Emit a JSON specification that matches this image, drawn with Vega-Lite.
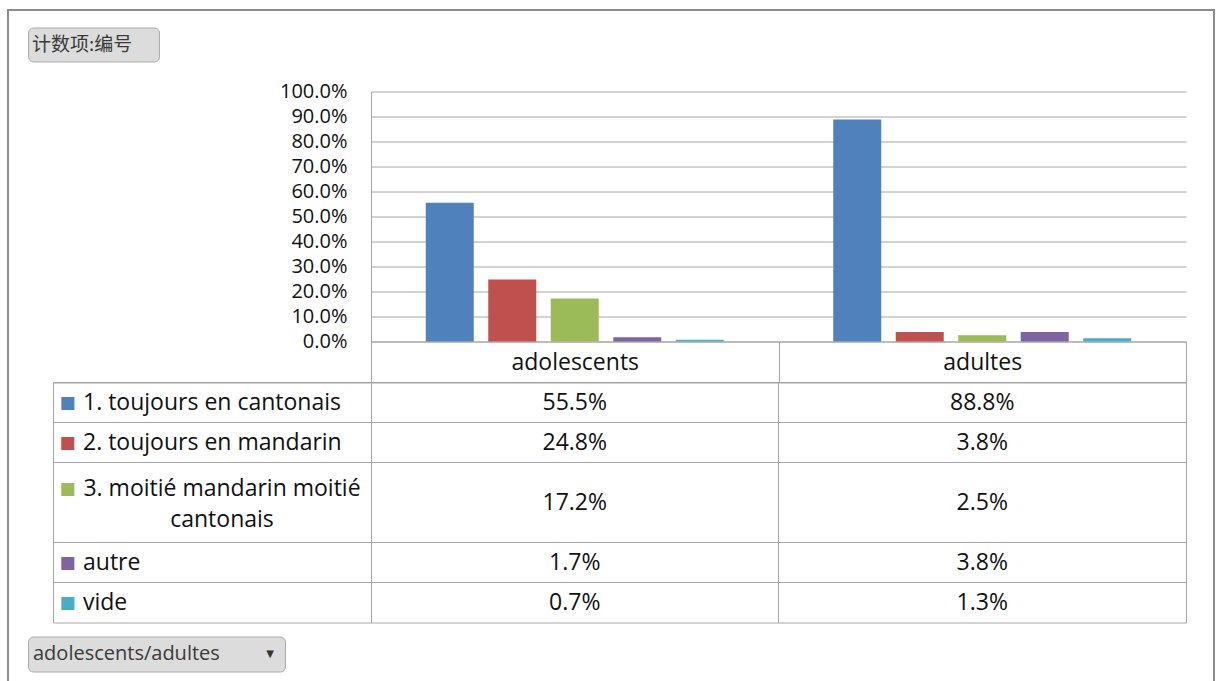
{
  "$schema": "https://vega.github.io/schema/vega-lite/v6.json",
  "padding": {"left": 7, "top": 9, "right": 0, "bottom": 0},
  "background": "white",
  "config": {
    "view": {"stroke": null},
    "font": "Open Sans",
    "axis": {"labelFont": "Open Sans"},
    "text": {"font": "Open Sans"}
  },
  "datasets": {
    "tbl": [
      {"group": "adolescents", "series": "1. toujours en cantonais", "value": 0.555},
      {"group": "adolescents", "series": "2. toujours en mandarin", "value": 0.248},
      {"group": "adolescents", "series": "3. moitié mandarin moitié cantonais", "value": 0.172},
      {"group": "adolescents", "series": "autre", "value": 0.017},
      {"group": "adolescents", "series": "vide", "value": 0.007},
      {"group": "adultes", "series": "1. toujours en cantonais", "value": 0.888},
      {"group": "adultes", "series": "2. toujours en mandarin", "value": 0.038},
      {"group": "adultes", "series": "3. moitié mandarin moitié cantonais", "value": 0.025},
      {"group": "adultes", "series": "autre", "value": 0.038},
      {"group": "adultes", "series": "vide", "value": 0.013}
    ]
  },
  "bounds": "full",
  "spacing": 0,
  "hconcat": [
    {
      "width": 2,
      "height": 672,
      "view": {"fill": "#8c8c8c"},
      "data": {"values": []},
      "mark": "text",
      "encoding": {"text": {"value": ""}}
    },
    {
      "bounds": "full",
      "spacing": 15.5,
      "vconcat": [
        {
          "width": 1204,
          "height": 2,
          "view": {"fill": "#8c8c8c"},
          "data": {"values": []},
          "mark": "text",
          "encoding": {"text": {"value": ""}}
        },
        {
          "bounds": "flush",
          "spacing": 0,
          "hconcat": [
            {
              "width": 19,
              "height": 10,
              "view": {"fill": "white"},
              "data": {"values": []},
              "mark": "text",
              "encoding": {"text": {"value": ""}}
            },
            {
              "bounds": "flush",
              "spacing": 30,
              "vconcat": [
                {
                  "width": 131,
                  "height": 34,
                  "view": {"fill": "#dcdcdc", "stroke": "#ababab", "cornerRadius": 5},
                  "data": {"values": [{"label": "计数项:编号"}]},
                  "mark": {"type": "text", "font": "Noto Sans CJK SC", "fontSize": 19, "align": "left", "dx": -61.5, "color": "#3a3a3a"},
                  "encoding": {"text": {"field": "label", "type": "nominal"}}
                },
                {
                  "bounds": "full",
                  "spacing": 12,
                  "vconcat": [
                    {
                      "bounds": "flush",
                      "spacing": 0,
                      "hconcat": [
                        {
                          "width": 25,
                          "height": 10,
                          "view": {"fill": "white"},
                          "data": {"values": []},
                          "mark": "text",
                          "encoding": {"text": {"value": ""}}
                        },
                        {
                          "columns": 2,
                          "align": "each",
                          "bounds": "flush",
                          "spacing": {"row": 41, "column": 0},
                          "concat": [
                            {
                              "width": 318,
                              "height": 250,
                              "data": {"values": []},
                              "mark": "text",
                              "encoding": {"text": {"value": ""}}
                            },
                            {
                              "width": 815,
                              "height": 250,
                              "data": {"name": "tbl"},
                              "mark": {"type": "bar"},
                              "encoding": {
                                "x": {
                                  "field": "group", "type": "nominal",
                                  "scale": {"domain": ["adolescents", "adultes"], "paddingInner": 0, "paddingOuter": 0},
                                  "axis": {"title": null, "labelAngle": 0, "tickBand": "extent", "tickSize": 41, "tickColor": "#a6a6a6", "domainColor": "#a6a6a6", "labelFontSize": 23, "labelColor": "#111111", "labelBaseline": "middle", "labelPadding": -20}
                                },
                                "xOffset": {
                                  "field": "series", "type": "nominal",
                                  "scale": {"paddingInner": 0.232, "paddingOuter": 0.876}
                                },
                                "y": {
                                  "field": "value", "type": "quantitative",
                                  "scale": {"domain": [0, 1], "nice": false},
                                  "axis": {"title": null, "format": ".1%", "tickCount": 10, "grid": true, "gridColor": "#a6a6a6", "domainColor": "#a6a6a6", "ticks": false, "labelFontSize": 20, "labelColor": "#111111", "labelPadding": 24, "labelOverlap": false, "labelFlush": false}
                                },
                                "color": {
                                  "field": "series", "type": "nominal",
                                  "scale": {"domain": ["1. toujours en cantonais", "2. toujours en mandarin", "3. moitié mandarin moitié cantonais", "autre", "vide"], "range": ["#4F81BD", "#C0504D", "#9BBB59", "#8064A2", "#4BACC6"]},
                                  "legend": null
                                }
                              }
                            },
                            {
                              "width": 318,
                              "height": 240,
                              "view": {"stroke": "#a6a6a6"},
                              "data": {"name": "tbl"},
                              "transform": [{"filter": "datum.group === 'adolescents'"}],
                              "layer": [
                                {
                                  "mark": {"type": "rule", "color": "#a6a6a6"},
                                  "encoding": {
                                    "y": {"field": "series", "type": "nominal", "bandPosition": 0, "scale": {"domain": ["1. toujours en cantonais", "2. toujours en mandarin", "3. moitié mandarin moitié cantonais", "~", "autre", "vide"], "paddingInner": 0, "paddingOuter": 0}, "axis": null}
                                  }
                                },
                                {
                                  "transform": [{"filter": "datum.series !== '3. moitié mandarin moitié cantonais'"}],
                                  "mark": {"type": "text", "font": "DejaVu Sans", "fontSize": 17, "dx": -144.5, "align": "center", "baseline": "middle"},
                                  "encoding": {
                                    "y": {"field": "series", "type": "nominal", "axis": null},
                                    "text": {"value": "■"},
                                    "color": {"field": "series", "type": "nominal", "legend": null}
                                  }
                                },
                                {
                                  "transform": [{"filter": "datum.series === '3. moitié mandarin moitié cantonais'"}],
                                  "mark": {"type": "text", "font": "DejaVu Sans", "fontSize": 17, "dx": -144.5, "align": "center", "baseline": "middle"},
                                  "encoding": {
                                    "y": {"field": "series", "type": "nominal", "bandPosition": 0.66, "axis": null},
                                    "text": {"value": "■"},
                                    "color": {"field": "series", "type": "nominal", "legend": null}
                                  }
                                },
                                {
                                  "transform": [{"filter": "datum.series !== '3. moitié mandarin moitié cantonais'"}],
                                  "mark": {"type": "text", "align": "left", "dx": -129, "fontSize": 23, "color": "#111111"},
                                  "encoding": {
                                    "y": {"field": "series", "type": "nominal", "axis": null},
                                    "text": {"field": "series", "type": "nominal"}
                                  }
                                },
                                {
                                  "transform": [{"filter": "datum.series === '3. moitié mandarin moitié cantonais'"}],
                                  "mark": {"type": "text", "align": "center", "dx": 10, "fontSize": 23, "lineHeight": 31, "color": "#111111"},
                                  "encoding": {
                                    "y": {"field": "series", "type": "nominal", "bandPosition": 0.66, "axis": null},
                                    "text": {"value": ["3. moitié mandarin moitié", "cantonais"]}
                                  }
                                }
                              ]
                            },
                            {
                              "width": 815,
                              "height": 240,
                              "view": {"stroke": "#a6a6a6"},
                              "data": {"name": "tbl"},
                              "layer": [
                                {
                                  "transform": [{"filter": "datum.group === 'adolescents'"}],
                                  "mark": {"type": "rule", "color": "#a6a6a6"},
                                  "encoding": {
                                    "y": {"field": "series", "type": "nominal", "bandPosition": 0, "scale": {"domain": ["1. toujours en cantonais", "2. toujours en mandarin", "3. moitié mandarin moitié cantonais", "~", "autre", "vide"], "paddingInner": 0, "paddingOuter": 0}, "axis": null}
                                  }
                                },
                                {
                                  "transform": [{"filter": "datum.group === 'adultes' && datum.series === 'vide'"}],
                                  "mark": {"type": "rule", "color": "#a6a6a6"},
                                  "encoding": {
                                    "x": {"field": "group", "type": "nominal", "bandPosition": 0, "scale": {"domain": ["adolescents", "adultes"], "paddingInner": 0, "paddingOuter": 0}, "axis": null}
                                  }
                                },
                                {
                                  "transform": [{"filter": "datum.series !== '3. moitié mandarin moitié cantonais'"}],
                                  "mark": {"type": "text", "fontSize": 23, "color": "#111111"},
                                  "encoding": {
                                    "x": {"field": "group", "type": "nominal", "axis": null},
                                    "y": {"field": "series", "type": "nominal", "axis": null},
                                    "text": {"field": "value", "type": "quantitative", "format": ".1%"}
                                  }
                                },
                                {
                                  "transform": [{"filter": "datum.series === '3. moitié mandarin moitié cantonais'"}],
                                  "mark": {"type": "text", "fontSize": 23, "color": "#111111"},
                                  "encoding": {
                                    "x": {"field": "group", "type": "nominal", "axis": null},
                                    "y": {"field": "series", "type": "nominal", "bandPosition": 1, "axis": null},
                                    "text": {"field": "value", "type": "quantitative", "format": ".1%"}
                                  }
                                }
                              ]
                            }
                          ]
                        }
                      ]
                    },
                    {
                      "width": 257,
                      "height": 35,
                      "view": {"fill": "#dcdcdc", "stroke": "#ababab", "cornerRadius": 5},
                      "data": {"values": [{"label": "adolescents/adultes"}]},
                      "layer": [
                        {
                          "mark": {"type": "text", "fontSize": 20, "align": "left", "dx": -123.5, "color": "#3a3a3a"},
                          "encoding": {"text": {"field": "label", "type": "nominal"}}
                        },
                        {
                          "mark": {"type": "text", "fontSize": 10, "dx": 113.5, "color": "#333333", "font": "DejaVu Sans"},
                          "encoding": {"text": {"value": "▼"}}
                        }
                      ]
                    }
                  ]
                }
              ]
            }
          ]
        }
      ]
    },
    {
      "width": 2,
      "height": 672,
      "view": {"fill": "#8c8c8c"},
      "data": {"values": []},
      "mark": "text",
      "encoding": {"text": {"value": ""}}
    }
  ]
}
